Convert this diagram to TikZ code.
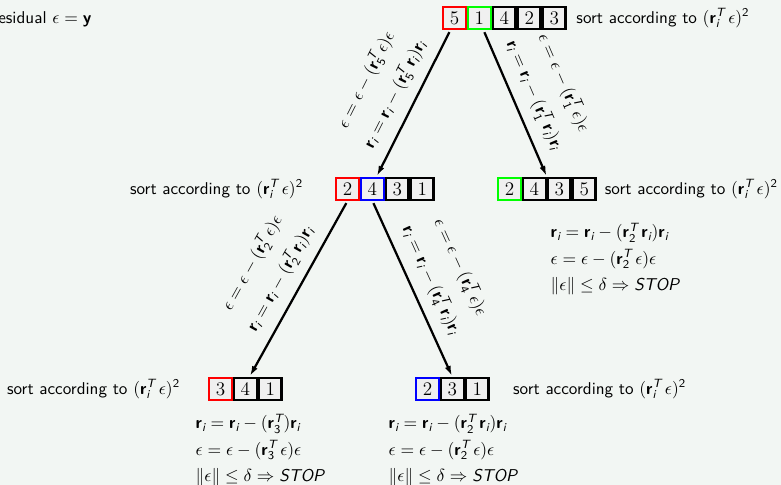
\documentclass[tikz,border=0pt]{standalone}
\usepackage{amsmath}
\usetikzlibrary{positioning,arrows.meta}
\definecolor{bg}{RGB}{242,246,243}
\definecolor{boxfill}{RGB}{240,240,240}
\definecolor{pgreen}{RGB}{0,255,0}
\definecolor{pred}{RGB}{255,0,0}
\definecolor{pblue}{RGB}{0,0,255}
\newcommand{\rb}{\text{\sffamily\bfseries r}}
\newcommand{\yb}{\text{\sffamily\bfseries y}}
\newcommand{\subi}{\text{\sffamily\itshape i}}
\newcommand{\supT}{\text{\sffamily\itshape T}}
\newcommand{\sn}[1]{\text{\sffamily #1}}
\newcommand{\stopw}{\text{\sffamily\itshape STOP}}
\newcommand{\sortby}{sort according to $(\rb_\subi^\supT\,\epsilon)^{\sn{2}}$}
\newcommand{\epsupd}[1]{$\epsilon = \epsilon - (\rb_{\sn{#1}}^\supT\,\epsilon)\epsilon$}
\newcommand{\rupd}[1]{$\rb_\subi = \rb_\subi - (\rb_{\sn{#1}}^\supT\,\rb_\subi)\rb_\subi$}
\newcommand{\bigfont}{\fontsize{10.7pt}{13pt}\selectfont\sffamily}
\tikzset{
  box/.style={draw, line width=1.5pt, fill=boxfill, minimum width=14.1pt,
    minimum height=13.5pt, inner sep=0pt, font=\rmfamily\large},
  arr/.style={line width=1.4pt, -{Latex[length=6.5pt,width=3.8pt]}, shorten <=1.5pt, shorten >=0.5pt},
  lab/.style={midway, sloped, above=3pt, align=center, font=\bigfont},
  eqs/.style={align=left, font=\bigfont, anchor=west},
  txt/.style={font=\bigfont}
}
\begin{document}
\begin{tikzpicture}[x=0.625pt,y=-0.625pt]
\fill[bg] (0,0) rectangle (781,485);
\clip (0,0) rectangle (781,485);
% top
\node[txt, anchor=east] (res) at (97,19) {Residual $\epsilon = \yb$};
\node[box, draw=pred, anchor=north west] (t5) at (442,6) {5};
\node[box, draw=pgreen, right=0pt of t5] (t1) {1};
\node[box, right=0pt of t1] (t4) {4};
\node[box, right=0pt of t4] (t2) {2};
\node[box, right=0pt of t2] (t3) {3};
\node[txt, right=2.5pt of t3] (tsort) {\sortby};
% second left
\node[box, draw=pred, anchor=north west] (s2) at (335,177) {2};
\node[box, draw=pblue, right=0pt of s2] (s4) {4};
\node[box, right=0pt of s4] (s3) {3};
\node[box, right=0pt of s3] (s1) {1};
\node[txt, left=16.5pt of s2] (ssort) {\sortby};
% second right
\node[box, draw=pgreen, anchor=north west] (r2) at (497,177) {2};
\node[box, right=0pt of r2] (r4) {4};
\node[box, right=0pt of r4] (r3) {3};
\node[box, right=0pt of r3] (r5) {5};
\node[txt, right=1.5pt of r5] (rsort) {\sortby};
\node[eqs] (req) at (545,259) {\rupd{2}\\[3.5pt]\epsupd{2}\\[3.5pt]$\|\epsilon\| \leq \delta \Rightarrow \stopw$};
% bottom left
\node[box, draw=pred, anchor=north west] (b3) at (208,377) {3};
\node[box, right=0pt of b3] (b4) {4};
\node[box, right=0pt of b4] (b1) {1};
\node[txt, left=14pt of b3] (bsort) {\sortby};
\node[eqs] (beq) at (190,450) {$\rb_\subi = \rb_\subi - (\rb_{\sn{3}}^\supT)\rb_\subi$\\[3.5pt]\epsupd{3}\\[3.5pt]$\|\epsilon\| \leq \delta \Rightarrow \stopw$};
% bottom right
\node[box, draw=pblue, anchor=north west] (c2) at (415,377) {2};
\node[box, right=0pt of c2] (c3) {3};
\node[box, right=0pt of c3] (c1) {1};
\node[txt, right=11pt of c1] (csort) {\sortby};
\node[eqs] (ceq) at (383,450) {\rupd{2}\\[3.5pt]\epsupd{2}\\[3.5pt]$\|\epsilon\| \leq \delta \Rightarrow \stopw$};
% arrows
\draw[arr] ([xshift=-2.5pt]t5.south) -- ([xshift=2.5pt]s4.north)
  node[lab] {\epsupd{5}\\[7pt]\rupd{5}};
\draw[arr] ([xshift=2.5pt]t1.south) -- (r4.north east)
  node[lab] {\epsupd{1}\\[7pt]\rupd{1}};
\draw[arr] (s2.south) -- ([xshift=2.5pt]b4.north)
  node[lab] {\epsupd{2}\\[7pt]\rupd{2}};
\draw[arr] (s4.south) -- (c3.north)
  node[lab] {\epsupd{4}\\[7pt]\rupd{4}};
\end{tikzpicture}
\end{document}
